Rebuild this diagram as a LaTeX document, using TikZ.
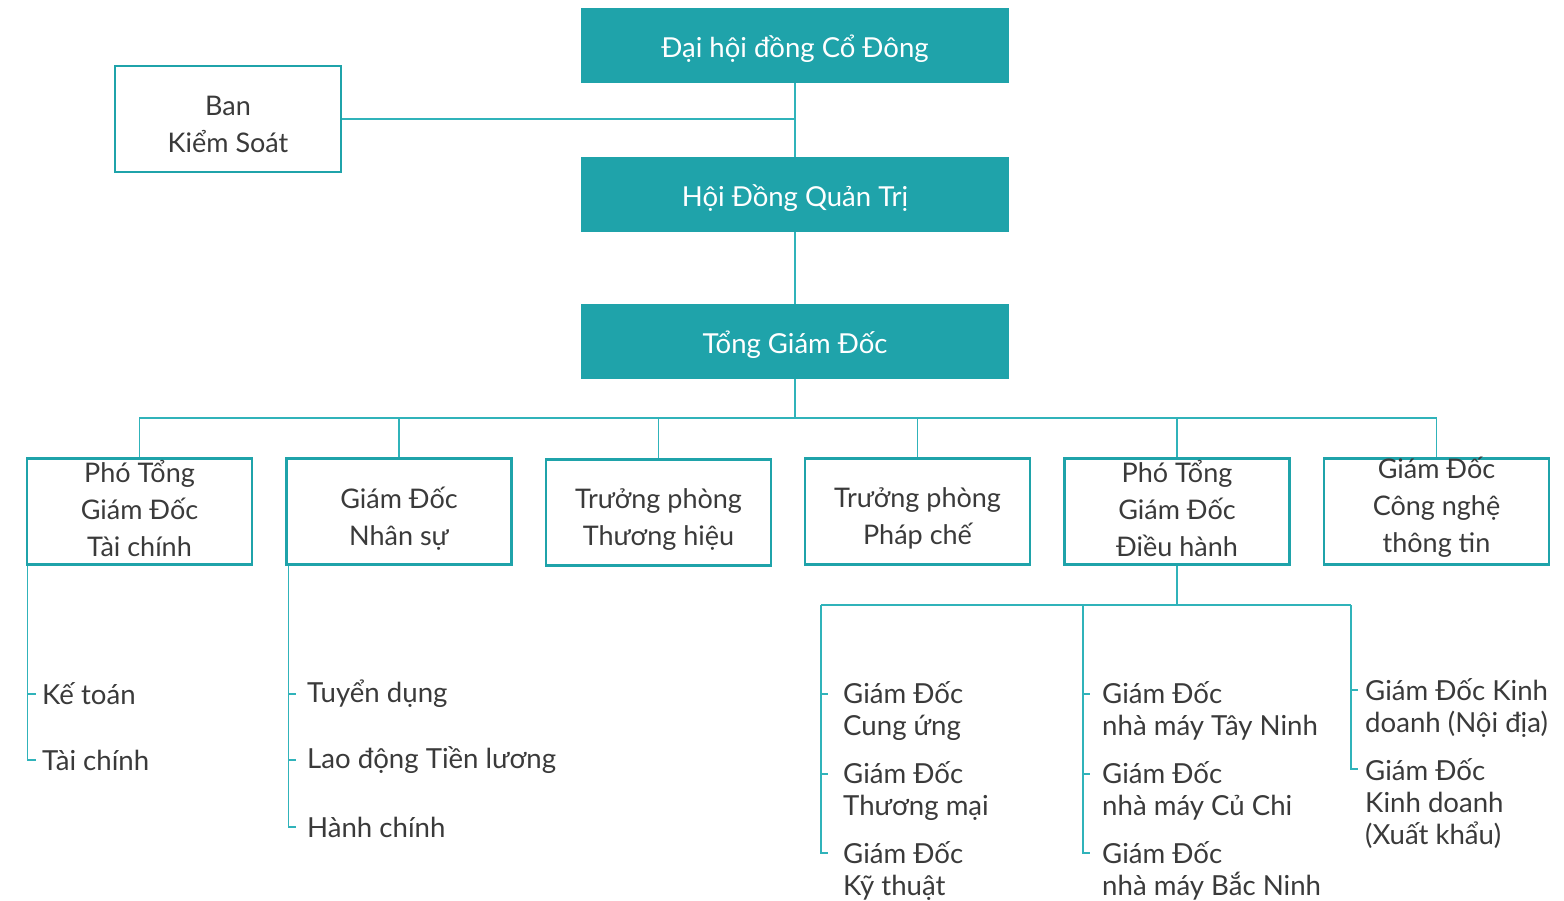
\documentclass[tikz,border=0pt]{standalone}
\usepackage{fontspec}
\setmainfont{Lato}
\definecolor{tealfill}{HTML}{1FA3AA}
\definecolor{tealline}{HTML}{30B3BA}
\definecolor{txt}{HTML}{3A3A3A}
\begin{document}
\begin{tikzpicture}[x=1pt,y=-1pt,
  filled/.style={fill=tealfill, minimum width=428pt, minimum height=75pt, inner sep=0pt},
  filledtext/.style={text=white, font=\fontsize{27.5}{30}\selectfont, inner sep=0pt},
  outbox/.style={draw=tealfill, line width=2.5pt, minimum width=225pt, minimum height=106pt, inner sep=0pt},
  boxtext/.style={align=center, text=txt, font=\fontsize{27}{37}\selectfont, inner sep=0pt},
  conn/.style={draw=tealline, line width=1.4pt},
  sub/.style={anchor=west, align=left, text=txt, font=\fontsize{27.6}{32}\selectfont, inner sep=0pt},
]
\useasboundingbox (0,0) rectangle (1564,901);

% top chain
\node[filled] (dh) at (795,45.5) {};
\node[filled] (hd) at (795,194.5) {};
\node[filled] (tg) at (795,341.5) {};
\node[filledtext] (dht) at ([yshift=-3.5]dh.center) {Đại hội đồng Cổ Đông};
\node[filledtext] (hdt) at ([yshift=-3.5]hd.center) {Hội Đồng Quản Trị};
\node[filledtext] (tgt) at ([yshift=-3.5]tg.center) {Tổng Giám Đốc};
\node[outbox, minimum width=226pt] (bks) at (228,119) {};
\node[boxtext] (bkst) at ([yshift=-5.5]bks.center) {Ban\\Kiểm Soát};

\draw[conn] (dh.south) -- (hd.north);
\draw[conn] (hd.south) -- (tg.north);
\draw[conn] (bks.east) -- (bks.east -| dh.south);

% second row
\node[outbox] (b1) at (139.5,511.5) {};
\node[outbox] (b2) at (399,511.5) {};
\node[outbox] (b3) at (658.5,512.5) {};
\node[outbox] (b4) at (917.5,511.5) {};
\node[outbox] (b5) at (1177,511.5) {};
\node[outbox] (b6) at (1436.5,511.5) {};
\node[boxtext] (b1t) at ([yshift=3]b1.center) {Phó Tổng\\Giám Đốc\\Tài chính};
\node[boxtext] (b2t) at ([yshift=-7]b2.center) {Giám Đốc\\Nhân sự};
\node[boxtext] (b3t) at ([yshift=-7]b3.center) {Trưởng phòng\\Thương hiệu};
\node[boxtext] (b4t) at ([yshift=-7]b4.center) {Trưởng phòng\\Pháp chế};
\node[boxtext] (b5t) at ([yshift=3]b5.center) {Phó Tổng\\Giám Đốc\\Điều hành};
\node[boxtext] (b6t) at ([yshift=4]b6.center) {Giám Đốc\\Công nghệ\\thông tin};

\coordinate (bus) at (795,418);
\draw[conn] (tg.south) -- (bus);
\draw[conn] (b1.north) |- (b6.north |- bus) -- (b6.north);
\foreach \b in {b2,b3,b4,b5} \draw[conn] (\b.north) -- (\b.north |- bus);

% branch 1
\node[sub] (kt) at (42,694) {Kế toán};
\node[sub] (tc) at (42,760) {Tài chính};
\coordinate (a0) at ([xshift=2pt]b1.south west);
\coordinate (a1) at (36,694);
\coordinate (a2) at (36,760);
\draw[conn] (a0) |- (a2);
\draw[conn] (a0 |- a1) -- (a1);

% branch 2
\node[sub] (td) at (307,694) {Tuyển dụng};
\node[sub] (ld) at (307,760) {Lao động Tiền lương};
\node[sub] (hc) at (307,827) {Hành chính};
\coordinate (c0) at ([xshift=3pt]b2.south west);
\coordinate (c1) at (296,694);
\coordinate (c2) at (296,760);
\coordinate (c3) at (296,827);
\draw[conn] (c0) |- (c3);
\draw[conn] (c0 |- c1) -- (c1);
\draw[conn] (c0 |- c2) -- (c2);

% branch 5
\coordinate (d0) at (1177,605);
\coordinate (dl) at (821,605);
\coordinate (dm) at (1083,605);
\coordinate (dr) at (1351,605);
\draw[conn] (b5.south) -- (d0);
\draw[conn] (dl) -- (dr);

\node[sub] (cu) at (843,711) {Giám Đốc\\Cung ứng};
\node[sub] (tm) at (843,791) {Giám Đốc\\Thương mại};
\node[sub] (kth) at (843,871) {Giám Đốc\\Kỹ thuật};
\coordinate (e1) at (828,694);
\coordinate (e2) at (828,774);
\coordinate (e3) at (828,853);
\draw[conn] (dl) |- (e3);
\draw[conn] (dl |- e1) -- (e1);
\draw[conn] (dl |- e2) -- (e2);

\node[sub] (tn) at (1102,711) {Giám Đốc\\nhà máy Tây Ninh};
\node[sub] (cc) at (1102,791) {Giám Đốc\\nhà máy Củ Chi};
\node[sub] (bn) at (1102,871) {Giám Đốc\\nhà máy Bắc Ninh};
\coordinate (f1) at (1090,694);
\coordinate (f2) at (1090,774);
\coordinate (f3) at (1090,853);
\draw[conn] (dm) |- (f3);
\draw[conn] (dm |- f1) -- (f1);
\draw[conn] (dm |- f2) -- (f2);

\node[sub] (nd) at (1365,708) {Giám Đốc Kinh\\doanh (Nội địa)};
\node[sub] (xk) at (1365,804) {Giám Đốc\\Kinh doanh\\(Xuất khẩu)};
\coordinate (g1) at (1358,690);
\coordinate (g2) at (1358,769);
\draw[conn] (dr) |- (g2);
\draw[conn] (dr |- g1) -- (g1);
\end{tikzpicture}
\end{document}
